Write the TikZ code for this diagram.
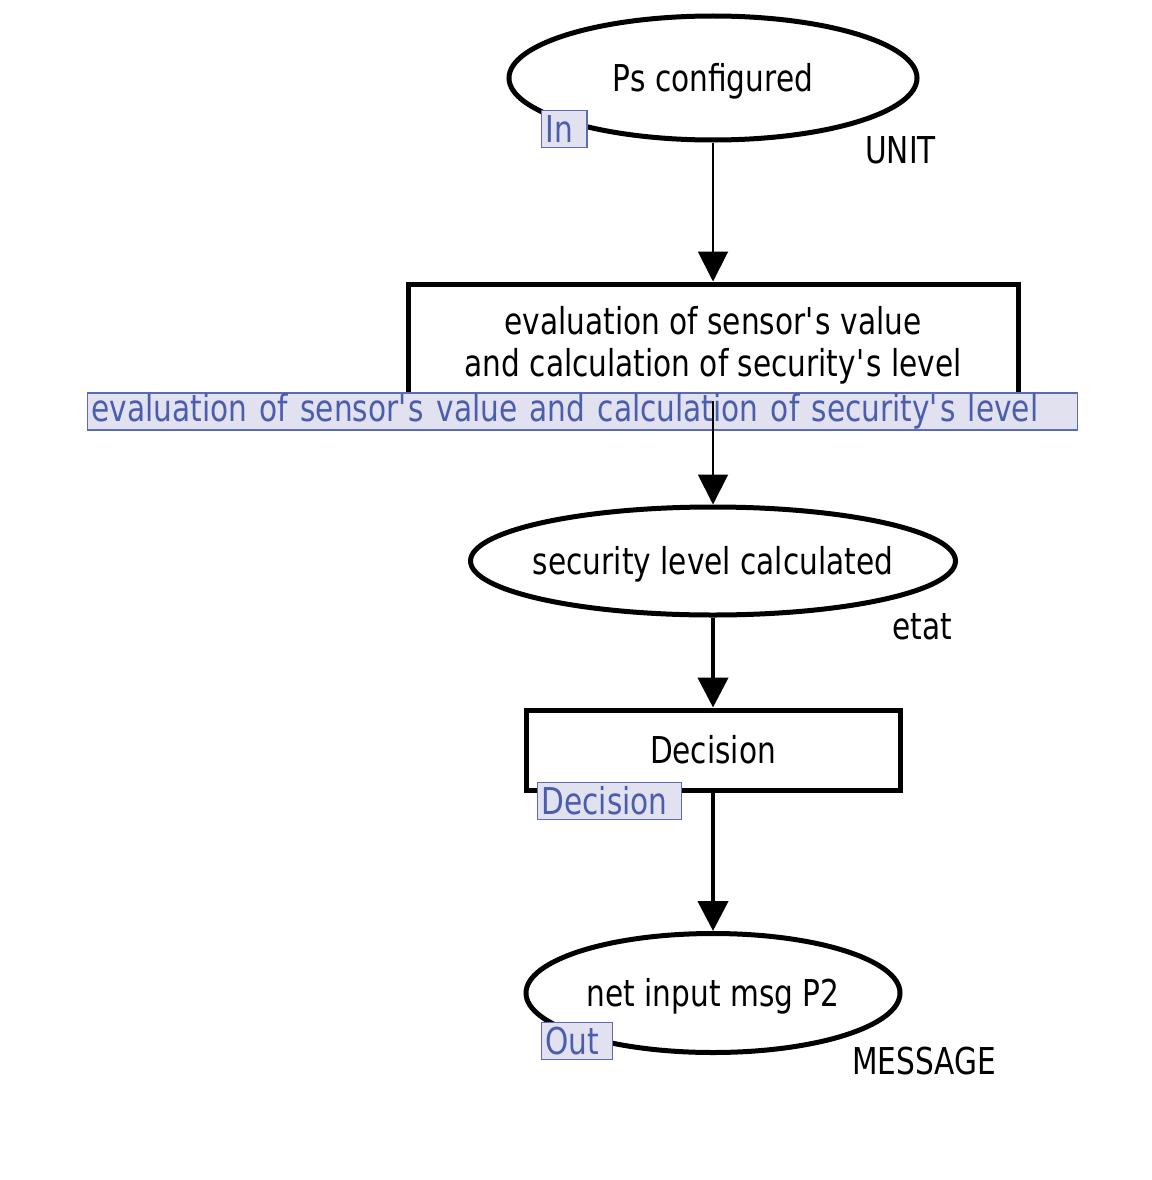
\documentclass[tikz,border=0pt]{standalone}
\usepackage{fontspec}
\setmainfont{DejaVu Sans}[FakeStretch=0.8]
\usetikzlibrary{shapes.geometric,arrows.meta}
\definecolor{lblue}{HTML}{4B5EAE}
\definecolor{lfill}{HTML}{E1E1F0}
\definecolor{lborder}{HTML}{5A6BB8}
\newcommand{\apo}{\textquotesingle}
\tikzset{
  place/.style={ellipse,draw,line width=5pt,fill=white,inner sep=0pt},
  trans/.style={rectangle,draw,line width=5pt,fill=white,inner sep=0pt},
  tag/.style={rectangle,draw=lborder,line width=1.2pt,fill=lfill,text=lblue,inner xsep=4pt,inner ysep=0pt,minimum height=37pt},
  typ/.style={inner sep=0pt},
  inner/.style={yshift=-3pt},
  thinarc/.style={line width=2pt,-{Triangle[length=30pt,width=30pt]}},
  thickarc/.style={line width=4.5pt,-{Triangle[length=30pt,width=30pt]}},
}
\begin{document}
\begin{tikzpicture}[x=1pt,y=-1pt,font=\fontsize{37}{42}\selectfont]
\useasboundingbox (0,0) rectangle (1151,1180);
% places and transitions
\node[place,minimum width=408pt,minimum height=124pt,label={[inner]center:Ps configured}] (p1) at (713,78) {};
\node[trans,minimum width=610pt,minimum height=114pt,label={[inner,align=center,yshift=-1pt]center:evaluation of sensor\apo s value\\and calculation of security\apo s level}] (t1) at (713,341) {};
\node[tag,anchor=west,text width=982pt,align=left] (t1tag) at (87,411.5) {evaluation of sensor\apo s value and calculation of security\apo s level};
\node[place,minimum width=485pt,minimum height=108pt,label={[inner]center:security level calculated}] (p2) at (713,561) {};
\node[trans,minimum width=374pt,minimum height=80pt] (t2) at (713,750) {Decision};
\node[tag,anchor=north west] (t2tag) at (537,782) {Decision\kern10pt};
\node[place,minimum width=374pt,minimum height=119pt,label={[inner]center:net input msg P2}] (p3) at (713,993) {};
% port tags
\node[tag,anchor=north west] (intag) at (541,110) {In\kern10pt};
\node[tag,anchor=north west] (outtag) at (541,1022) {Out\kern9pt};
% colour sets
\node[typ,anchor=west] (unit) at (865,150) {UNIT};
\node[typ,anchor=west] (etat) at (892,627) {etat};
\node[typ,anchor=west] (msg) at (852,1061) {MESSAGE};
% arcs
\draw[thinarc] (p1.south) -- (t1.north);
\draw[thinarc] (t1.south) -- (p2.north);
\draw[thickarc] (p2.south) -- (t2.north);
\draw[thickarc] (t2.south) -- (p3.north);
\end{tikzpicture}
\end{document}
